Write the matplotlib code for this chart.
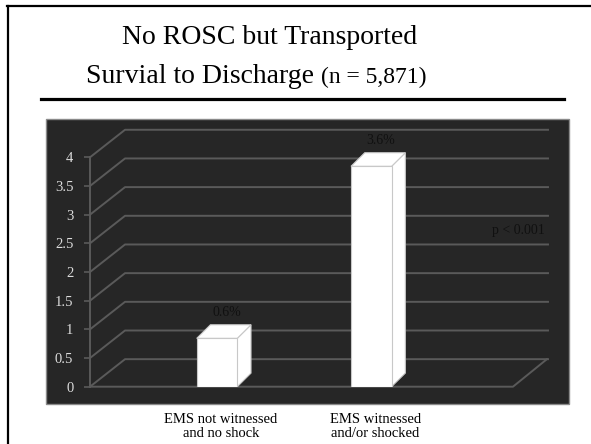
import matplotlib.pyplot as plt
import matplotlib.transforms as mtransforms
from matplotlib.patches import Polygon, Rectangle
from matplotlib.lines import Line2D

plt.rcParams['font.family'] = ['Liberation Serif', 'DejaVu Serif']

# survival to discharge (%)
categories = ['EMS not witnessed\nand no shock', 'EMS witnessed\nand/or shocked']
survival = [0.6, 3.6]
labels = ['0.6%', '3.6%']
yticks = [0, 0.5, 1, 1.5, 2, 2.5, 3, 3.5, 4]

W, H = 591, 444
fig = plt.figure(figsize=(W / 100, H / 100), dpi=100)
fig.patch.set_facecolor('white')

def fx(px):
    return px / W

def fy(py):
    return 1 - py / H

# slide frame (left + top) and title rule
fig.add_artist(Line2D([fx(8), fx(8)], [fy(6), 0], color='black', lw=1.6))
fig.add_artist(Line2D([fx(7.2), 1], [fy(6), fy(6)], color='black', lw=1.6))
fig.add_artist(Line2D([fx(41), fx(564)], [fy(99.5), fy(99.5)], color='black', lw=2.3))

fig.text(fx(270), fy(43.5), 'No ROSC but Transported', fontsize=20,
         ha='center', va='baseline')
fig.text(fx(314), fy(83), 'Survial to Discharge', fontsize=20,
         ha='right', va='baseline')
fig.text(fx(321), fy(83), '(n = 5,871)', fontsize=17,
         ha='left', va='baseline')

# dark chart panel
fig.add_artist(Rectangle((fx(46), fy(404)), fx(568.7) - fx(46), fy(118.7) - fy(404),
                         facecolor='#262626', edgecolor='#8a8a8a', lw=1.0,
                         transform=fig.transFigure, zorder=0))

# plotting axes: x in category units, y in survival units
ax = fig.add_axes([fx(90), fy(386.7), fx(550) - fx(90), fy(129.2) - fy(386.7)])
ax.set_facecolor('none')
x_left, x_right = -0.823, 2.158
ax.set_xlim(x_left, x_right)
ax.set_ylim(0, 4.49)

dx, dy = 0.227, 0.48        # depth of the floor / back wall
bdx, bdy = 0.089, 0.237     # depth of each bar
bar_w = 0.263
floor_end = 1.918
grid_c = '#5a5a5a'

for v in yticks:
    if v == 0:
        ax.plot([x_left, floor_end, floor_end + dx - 0.007], [0, 0, dy],
                color=grid_c, lw=1.4, clip_on=False)
    ax.plot([x_left, x_left + dx, floor_end + dx], [v, v + dy, v + dy],
            color=grid_c, lw=1.4, clip_on=False)

for i, (v, lab) in enumerate(zip(survival, labels)):
    x0, x1 = i - bar_w / 2, i + bar_w / 2
    top = v + dy - bdy
    ec = '#c8c8c8'
    ax.add_patch(Polygon([(x1, 0), (x1, top), (x1 + bdx, top + bdy), (x1 + bdx, bdy)],
                         facecolor='white', edgecolor=ec, lw=0.8, zorder=3))
    ax.add_patch(Polygon([(x0, top), (x1, top), (x1 + bdx, top + bdy), (x0 + bdx, top + bdy)],
                         facecolor='white', edgecolor=ec, lw=0.8, zorder=3))
    ax.add_patch(Rectangle((x0, 0), bar_w, top, facecolor='white',
                           edgecolor=ec, lw=0.8, zorder=4))
    ax.text(i + 0.062, v + dy + 0.22, lab, fontsize=10, color='#101010',
            ha='center', va='center', zorder=5)

for s in ['top', 'right', 'bottom']:
    ax.spines[s].set_visible(False)
ax.spines['left'].set_color(grid_c)
ax.spines['left'].set_linewidth(1.4)
ax.spines['left'].set_bounds(0, 4)
ax.set_xticks([])
ax.set_yticks(yticks)
ax.set_yticklabels([f'{t:g}' for t in yticks])
ax.tick_params(axis='y', colors=grid_c, length=4, width=1.2, pad=8,
               labelsize=10.5, labelcolor='#dcdcdc')

# category labels below the panel
trans = mtransforms.blended_transform_factory(ax.transData, fig.transFigure)
for i, cat in enumerate(categories):
    fig.text(i + 0.025, fy(426), cat, transform=trans, fontsize=10.5,
             ha='center', va='center', linespacing=1.1, color='black')

fig.text(fx(518), fy(230.7), 'p < 0.001', fontsize=10, color='#101010',
         ha='center', va='center')

fig.savefig('out.png', dpi=100)
